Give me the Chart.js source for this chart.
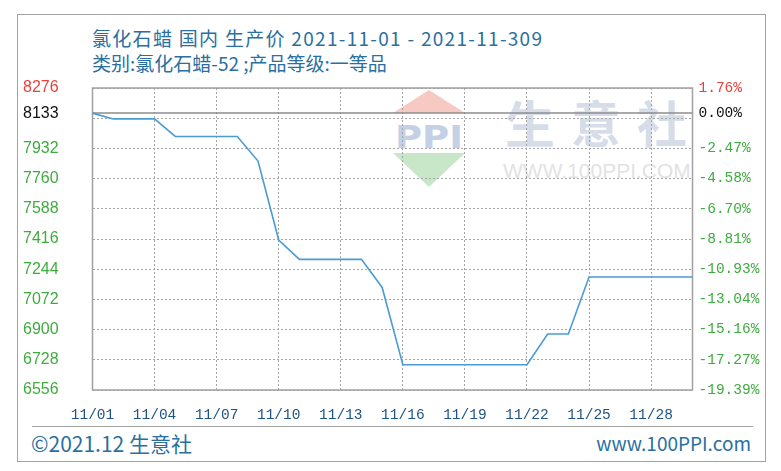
<!DOCTYPE html>
<html>
<head>
<meta charset="utf-8">
<script src="https://cdn.jsdelivr.net/npm/chart.js@4/dist/chart.umd.min.js"></script>
<style>
  body { margin: 0; background: #fff; }
  #wrap { position: relative; width: 781px; height: 471px; overflow: hidden; }
  #frame { position: absolute; left: 17px; top: 14px; width: 747px; height: 446px; border: 1.5px solid #a3a3a3; }
  .txt { position: absolute; white-space: nowrap; font-family: "Noto Sans CJK SC", "Noto Sans", sans-serif; }
  #title1 { left: 92px; top: 26px; font-size: 19px; color: #2a6f9f; line-height: 24px; letter-spacing: 1.3px; }
  #title2 { left: 92px; top: 51px; font-size: 19px; color: #2a6f9f; line-height: 24px; }
  #footLine { position: absolute; left: 32px; top: 426px; width: 721px; height: 0; border-top: 1.5px solid #a3a3a3; }
  #footL { left: 31px; top: 429px; font-size: 21px; color: #2a6f9f; line-height: 28px; }
  #footR { right: 30px; top: 430px; font-size: 19px; color: #2a6f9f; line-height: 26px; }
  #wmText { left: 505px; top: 88px; font-size: 50px; color: #d6dde9; letter-spacing: 16px; line-height: 66px; font-weight: bold; }
  #wmUrl { left: 503px; top: 160px; font-size: 21px; color: #e2e2e2; line-height: 22px; font-family: "Liberation Sans Narrow", "Liberation Sans", sans-serif; }
  #wmLogo { position: absolute; left: 393px; top: 90px; }
  canvas { position: absolute; left: 0; top: 0; }
</style>
</head>
<body>
<div id="wrap">
  <div id="frame"></div>
  <svg id="wmLogo" width="72" height="100">
    <polygon points="36,0 0,23 72,23" fill="#f6c9c2"/>
    <text x="2" y="58" textLength="68" lengthAdjust="spacingAndGlyphs" font-family="DejaVu Sans" font-weight="bold" font-size="32" fill="#c3d0e6">PPI</text>
    <polygon points="0,63 72,63 36,97" fill="#c8e6c8"/>
  </svg>
  <div class="txt" id="wmText">生意社</div>
  <div class="txt" id="wmUrl">WWW.100PPI.COM</div>
  <div class="txt" id="title1">氯化石蜡 国内 生产价 2021-11-01 - 2021-11-309</div>
  <div class="txt" id="title2">类别:氯化石蜡-52 ;产品等级:一等品</div>
  <div id="footLine"></div>
  <div class="txt" id="footL">©2021.12 生意社</div>
  <div class="txt" id="footR">www.100PPI.com</div>
  <canvas id="chart" width="781" height="471"></canvas>
</div>
<script>
// daily prices, 11/01 .. 11/30
var dates = ['11/01', '11/02', '11/03', '11/04', '11/05', '11/06', '11/07', '11/08', '11/09', '11/10',
    '11/11', '11/12', '11/13', '11/14', '11/15', '11/16', '11/17', '11/18', '11/19', '11/20',
    '11/21', '11/22', '11/23', '11/24', '11/25', '11/26', '11/27', '11/28', '11/29', '11/30'];
var prices = [8133, 8100, 8100, 8100, 8000, 8000, 8000, 8000, 7860, 7410,
    7300, 7300, 7300, 7300, 7140, 6700, 6700, 6700, 6700, 6700,
    6700, 6700, 6875, 6875, 7200, 7200, 7200, 7200, 7200, 7200];

var basePrice = 8133;
var gridValues = [6556, 6728, 6900, 7072, 7244, 7416, 7588, 7760, 7932, 8104, 8133, 8276];
var leftLabels = ['6556', '6728', '6900', '7072', '7244', '7416', '7588', '7760', '7932', '', '8133', '8276'];
var rightLabels = ['-19.39%', '-17.27%', '-15.16%', '-13.04%', '-10.93%', '-8.81%', '-6.70%', '-4.58%', '-2.47%', '', '0.00%', '1.76%'];

var green = '#3fab3f';
var gridColor = '#a5a5a5';

function tickColor(ctx) {
    var v = ctx.tick.value;
    if (v === 8276) return '#e8413c';
    if (v === basePrice) return '#111';
    return green;
}

function setTicks(scale) {
    scale.ticks = gridValues.map(function (v) { return { value: v }; });
}

var framePlugin = {
    id: 'frame',
    beforeDatasetsDraw: function (chart) {
        var c = chart.ctx, a = chart.chartArea;
        var y = chart.scales.y.getPixelForValue(basePrice);
        c.save();
        c.strokeStyle = '#8c8c8c';
        c.lineWidth = 1.5;
        c.beginPath();
        c.moveTo(a.left, y);
        c.lineTo(a.right, y);
        c.stroke();
        c.strokeStyle = '#a0a0a0';
        c.strokeRect(a.left, a.top, a.right - a.left, a.bottom - a.top);
        c.restore();
    }
};

new Chart(document.getElementById('chart'), {
    type: 'line',
    data: {
        labels: dates,
        datasets: [{
            data: prices,
            borderColor: '#4a9bd6',
            borderWidth: 1.6,
            pointRadius: 0,
            tension: 0,
            yAxisID: 'y'
        }]
    },
    options: {
        responsive: false,
        animation: false,
        layout: { padding: { left: 23, top: 88, right: 0, bottom: 0 } },
        plugins: { legend: { display: false }, tooltip: { enabled: false } },
        scales: {
            x: {
                offset: false,
                grid: {
                    drawTicks: false,
                    lineWidth: 1,
                    color: function (c) { return (c.index % 3 === 0 && c.index > 0) ? gridColor : 'rgba(0,0,0,0)'; }
                },
                border: { display: false, dash: [2, 2] },
                ticks: {
                    autoSkip: false,
                    maxRotation: 0,
                    padding: 16,
                    color: '#1d5485',
                    font: { family: 'Liberation Mono', size: 14.5 },
                    callback: function (v, i) { return i % 3 === 0 ? dates[i] : ''; }
                },
                afterFit: function (s) { s.height = 81; }
            },
            y: {
                position: 'left',
                min: 6556,
                max: 8276,
                afterBuildTicks: setTicks,
                grid: {
                    drawTicks: false,
                    lineWidth: 1,
                    color: function (c) { return c.tick && c.tick.value === basePrice ? 'rgba(0,0,0,0)' : gridColor; }
                },
                border: { display: false, dash: [2, 2] },
                ticks: {
                    crossAlign: 'far',
                    color: tickColor,
                    font: { family: 'Liberation Sans', size: 16 },
                    callback: function (v) { return leftLabels[gridValues.indexOf(v)]; }
                },
                afterFit: function (s) { s.width = 69.5; }
            },
            y1: {
                position: 'right',
                min: 6556,
                max: 8276,
                afterBuildTicks: setTicks,
                grid: { display: false, drawTicks: false },
                border: { display: false },
                ticks: {
                    padding: 6,
                    color: tickColor,
                    font: { family: 'Liberation Mono', size: 14.5 },
                    callback: function (v) { return rightLabels[gridValues.indexOf(v)]; }
                },
                afterFit: function (s) { s.width = 88.5; }
            }
        }
    },
    plugins: [framePlugin]
});
</script>
</body>
</html>
